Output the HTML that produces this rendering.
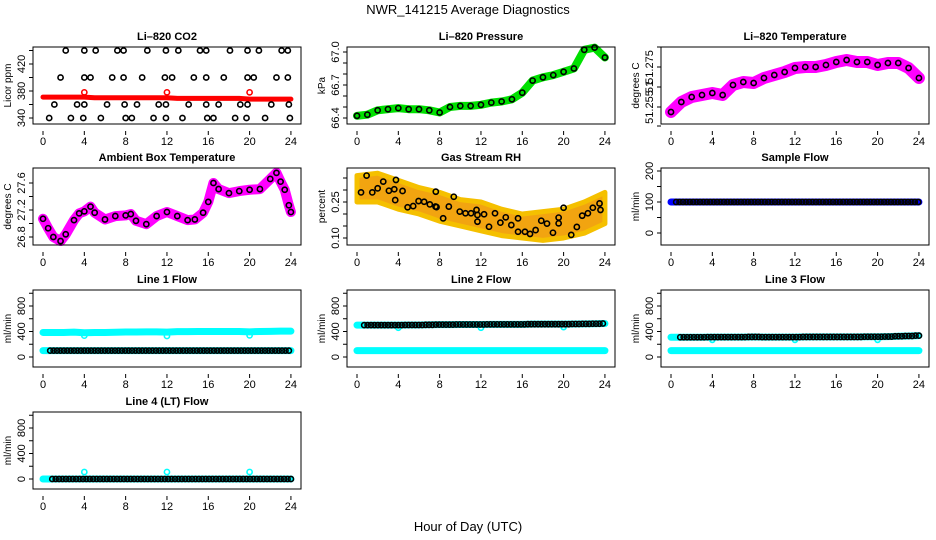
<!DOCTYPE html>
<html><head><meta charset="utf-8"><style>
body{margin:0;background:#fff}
svg{display:block;font-family:"Liberation Sans",Arial,sans-serif}
</style></head><body>
<svg id="c" width="936" height="540" viewBox="0 0 936 540">
<text x="468" y="14" text-anchor="middle" font-size="13">NWR_141215  Average Diagnostics</text>
<text x="468" y="531" text-anchor="middle" font-size="13">Hour of Day (UTC)</text>
</svg>
<script>
// ---- data ----
const hourTicks=[0,4,8,12,16,20,24];
const hours24=[0,1,2,3,4,5,6,7,8,9,10,11,12,13,14,15,16,17,18,19,20,21,22,23,24];
const co2Red=[371,371,371,371,371,370,370,370,370,370,370,370,370,369,369,369,369,369,369,369,368,368,368,368,368];
const co2RedOutH=[4,12,20];
const co2RedOutV=[378,378,378];
const co2BlkH=[2.2,4.0,5.1,7.2,7.8,10.1,11.9,13.1,15.2,15.8,18.1,19.8,20.9,23.1,23.7,1.7,4.0,4.6,6.7,7.8,9.6,11.8,12.5,14.6,15.8,17.5,19.8,20.4,22.6,23.7,1.1,3.3,4.0,6.2,7.9,9.1,11.2,11.9,14.1,15.8,17.0,19.1,19.8,22.1,23.8,0.6,2.7,3.9,5.6,8.0,8.6,10.7,11.9,13.5,15.9,16.5,18.6,19.7,21.5,23.9];
const co2BlkV=[440,440,440,440,440,440,440,440,440,440,440,440,440,440,440,400,400,400,400,400,400,400,400,400,400,400,400,400,400,400,360,360,360,360,360,360,360,360,360,360,360,360,360,360,360,340,340,340,340,340,340,340,340,340,340,340,340,340,340,340];
const pressure=[66.42,66.43,66.47,66.48,66.49,66.48,66.48,66.47,66.45,66.50,66.51,66.51,66.52,66.54,66.55,66.57,66.63,66.74,66.77,66.79,66.82,66.85,67.02,67.04,66.95];
const liTemp=[51.2525,51.2575,51.260,51.261,51.262,51.261,51.266,51.2675,51.267,51.2695,51.271,51.2725,51.2745,51.275,51.275,51.276,51.2775,51.2785,51.2775,51.2775,51.276,51.277,51.277,51.2745,51.2695];
const ambH=[0,0.5,1,1.7,2.2,3,3.5,4,4.6,5,6,7,8,8.5,9,10,11,12,13,14,14.7,15.5,16,16.5,17,18,19,20,21,22,22.6,23,23.4,23.8,24];
const ambV=[27.07,26.93,26.80,26.74,26.84,27.05,27.15,27.18,27.25,27.16,27.06,27.11,27.12,27.14,27.04,26.99,27.11,27.17,27.11,27.05,27.06,27.16,27.32,27.60,27.51,27.45,27.48,27.50,27.51,27.66,27.75,27.62,27.50,27.27,27.17];
const rhBandH=[0,2,4,6,8,10,12,14,16,18,20,22,24];
const rhUpper=[0.36,0.37,0.34,0.31,0.29,0.26,0.25,0.22,0.20,0.21,0.22,0.25,0.29];
const rhLower=[0.25,0.25,0.22,0.20,0.17,0.15,0.13,0.11,0.10,0.09,0.10,0.12,0.16];
const rhH=[0.39,0.93,1.48,2.0,2.54,3.09,3.61,3.77,3.70,4.41,4.90,5.44,5.96,6.50,7.05,7.60,7.63,7.70,8.34,8.89,9.37,9.95,10.50,11.04,11.57,11.66,11.66,12.30,12.78,13.36,13.88,14.40,14.94,15.59,15.59,16.26,16.75,17.29,17.84,18.39,18.97,19.52,19.52,20.0,20.74,21.28,21.80,22.35,22.83,23.48,23.57];
const rhV=[0.290,0.360,0.290,0.307,0.335,0.297,0.303,0.342,0.258,0.296,0.228,0.233,0.254,0.251,0.240,0.231,0.293,0.229,0.182,0.231,0.272,0.210,0.203,0.203,0.217,0.196,0.168,0.199,0.147,0.203,0.164,0.186,0.154,0.182,0.126,0.126,0.117,0.133,0.172,0.160,0.122,0.185,0.161,0.226,0.113,0.146,0.193,0.203,0.226,0.244,0.217];
const sampleFlow=[100,100,100,100,100,100,100,100,100,100,100,100,100,100,100,100,100,100,100,100,100,100,100,100,100];
const line1Cyan=[385,385,385,390,380,385,385,388,392,392,395,395,390,398,398,400,400,400,400,400,395,400,402,405,405];
const line1Blk=[100,100,100,100,100,100,100,100,100,100,100,100,100,100,100,100,100,100,100,100,100,100,100,100,100];
const line2Blk=[500,500,500,500,500,502,502,505,508,508,510,510,510,512,512,512,512,515,515,515,515,518,520,522,525];
const line2Cyan=[100,100,100,100,100,100,100,100,100,100,100,100,100,100,100,100,100,100,100,100,100,100,100,100,100];
const line3Blk=[310,310,310,310,312,312,312,312,315,312,312,312,312,315,315,315,315,315,315,318,318,320,325,330,335];
const line3Cyan=[100,100,100,100,100,100,100,100,100,100,100,100,100,100,100,100,100,100,100,100,100,100,100,100,100];
const line4Blk=[0,0,0,0,0,0,0,0,0,0,0,0,0,0,0,0,0,0,0,0,0,0,0,0,0];
const line4OutH=[4,12,20];
const line4OutV=[110,110,110];
const flowDipH=[4,12,20];

const NS="http://www.w3.org/2000/svg";
const svg=document.getElementById('c');
const colX0=[43,357,671], rowTop=[47,168,290,412], HPX=10.33, BH=77;
function el(t,a,p){const e=document.createElementNS(NS,t);for(const k in a)e.setAttribute(k,a[k]);(p||svg).appendChild(e);return e;}
function panel(name,title,col,row,v1,o1,v2,o2,yticks,ylabels,ylab){
  const g=el('g',{});
  
  
  const x0=colX0[col], top=rowTop[row], bl=x0-10, bw=268;
  const X=h=>x0+h*HPX;
  const Y=v=>top+o1+(v-v1)*(o2-o1)/(v2-v1);
  const t=el('text',{x:x0+124,y:top-7,'text-anchor':'middle','font-size':11,'font-weight':'bold'},g);t.textContent=title;
  
  
  const plot=el('g',{},g);
  
  
  const bx=el('rect',{x:bl,y:top,width:bw,height:BH,fill:'none',stroke:'#000','stroke-width':1},g);
  
  
  hourTicks.forEach(h=>{
    el('line',{x1:X(h),x2:X(h),y1:top+BH+7,y2:top+BH+11,stroke:'#000'},g);
    const tx=el('text',{x:X(h),y:top+BH+21,'text-anchor':'middle','font-size':11},g);tx.textContent=h;
    
    
  });
  yticks.forEach(v=>{el('line',{x1:bl-4,x2:bl,y1:Y(v),y2:Y(v),stroke:'#000'},g);});
  ylabels.forEach(([v,s])=>{
    const tx=el('text',{x:0,y:0,'text-anchor':'middle','font-size':11,transform:`translate(${bl-8},${Y(v)}) rotate(-90)`},g);tx.textContent=s;
    
    
  });
  const yl=el('text',{x:0,y:0,'text-anchor':'middle','font-size':10,transform:`translate(${bl-22},${top+BH/2}) rotate(-90)`},g);yl.textContent=ylab;
  
  
  return {X,Y,g:plot};
}
function band(p,hs,vs,color,w){
  const pl=el('polyline',{points:hs.map((h,i)=>p.X(h)+','+p.Y(vs[i])).join(' '),fill:'none',stroke:color,'stroke-width':w,'stroke-linejoin':'round','stroke-linecap':'round'},p.g);
  
  
}
function pts(p,hs,vs,color){
  hs.forEach((h,i)=>{const c=el('circle',{cx:p.X(h),cy:p.Y(vs[i]),r:2.6,fill:'none',stroke:color,'stroke-width':1.6},p.g);
    
    });
}
function stepPts(p,arr,color,start,step){
  for(let h=start;h<=24.001;h+=step){const c=el('circle',{cx:p.X(h),cy:p.Y(arr[Math.round(h)]),r:2.6,fill:'none',stroke:color,'stroke-width':1.6},p.g);
    
    }
}
function hourPts(p,arr,color){pts(p,hours24,arr,color);}

// CO2
let p=panel('co2','Li\u2013820 CO2',0,0,420,17,340,71,[340,360,380,400,420,440],[[340,'340'],[380,'380'],[420,'420']],'Licor ppm');
band(p,hours24,co2Red,'#ff0000',5);
pts(p,co2RedOutH,co2RedOutV,'#ff0000');
pts(p,co2BlkH,co2BlkV,'#000');
// Pressure
p=panel('pressure','Li\u2013820 Pressure',1,0,67.0,5,66.4,71,[66.4,66.5,66.6,66.7,66.8,66.9,67.0],[[66.4,'66.4'],[66.7,'66.7'],[67.0,'67.0']],'kPa');
band(p,hours24,pressure,'#00e000',8);
hourPts(p,pressure,'#000');
// Li temp
p=panel('li-temp','Li\u2013820 Temperature',2,0,51.275,20,51.255,60,[51.2455,51.255,51.265,51.275,51.285],[[51.255,'51.255'],[51.265,'51'],[51.275,'51.275']],'degrees C');
band(p,hours24,liTemp,'#ff00ff',12);
hourPts(p,liTemp,'#000');
// Ambient
p=panel('ambient','Ambient Box Temperature',0,1,27.6,15,26.8,69,[26.8,27.0,27.2,27.4,27.6],[[26.8,'26.8'],[27.2,'27.2'],[27.6,'27.6']],'degrees C');
band(p,ambH,ambV,'#ff00ff',10);
pts(p,ambH,ambV,'#000');
// RH
p=panel('rh','Gas Stream RH',1,1,0.25,34,0.10,70,[0.10,0.15,0.20,0.25,0.30,0.35],[[0.10,'0.10'],[0.25,'0.25']],'percent');
{const poly=rhBandH.map((h,i)=>p.X(h)+','+p.Y(rhUpper[i])).concat(rhBandH.slice().reverse().map((h,i)=>p.X(h)+','+p.Y(rhLower[rhLower.length-1-i])));
 const pg=el('polygon',{points:poly.join(' '),fill:'#f2a410',stroke:'#f5c000','stroke-width':5,'stroke-linejoin':'round'},p.g);
 
 }
pts(p,rhH,rhV,'#000');
// Sample flow
p=panel('sample-flow','Sample Flow',2,1,200,3,0,65,[0,50,100,150,200],[[0,'0'],[100,'100'],[200,'200']],'ml/min');
band(p,hours24,sampleFlow,'#0000ff',7);
stepPts(p,sampleFlow,'#000',0.5,0.33);
// Flows
const fT=[0,200,400,600,800,1000], fL=[[0,'0'],[400,'400'],[800,'800']];
p=panel('line1-flow','Line 1 Flow',0,2,800,16,0,67,fT,fL,'ml/min');
band(p,hours24,line1Cyan,'#00ffff',7);
pts(p,flowDipH,[335,330,340],'#00ffff');
band(p,hours24,line1Blk,'#00ffff',7);
stepPts(p,line1Blk,'#000',0.7,0.33);
p=panel('line2-flow','Line 2 Flow',1,2,800,16,0,67,fT,fL,'ml/min');
band(p,hours24,line2Cyan,'#00ffff',7);
band(p,hours24,line2Blk,'#00ffff',7);
pts(p,flowDipH,[460,460,470],'#00ffff');
stepPts(p,line2Blk,'#000',0.7,0.33);
p=panel('line3-flow','Line 3 Flow',2,2,800,16,0,67,fT,fL,'ml/min');
band(p,hours24,line3Cyan,'#00ffff',7);
band(p,hours24,line3Blk,'#00ffff',7);
pts(p,flowDipH,[270,270,270],'#00ffff');
stepPts(p,line3Blk,'#000',0.9,0.33);
p=panel('line4-flow','Line 4 (LT) Flow',0,3,800,16,0,67,fT,fL,'ml/min');
band(p,hours24,line4Blk,'#00ffff',7);
pts(p,line4OutH,line4OutV,'#00ffff');
stepPts(p,line4Blk,'#000',0.9,0.33);
</script>
</body></html>
